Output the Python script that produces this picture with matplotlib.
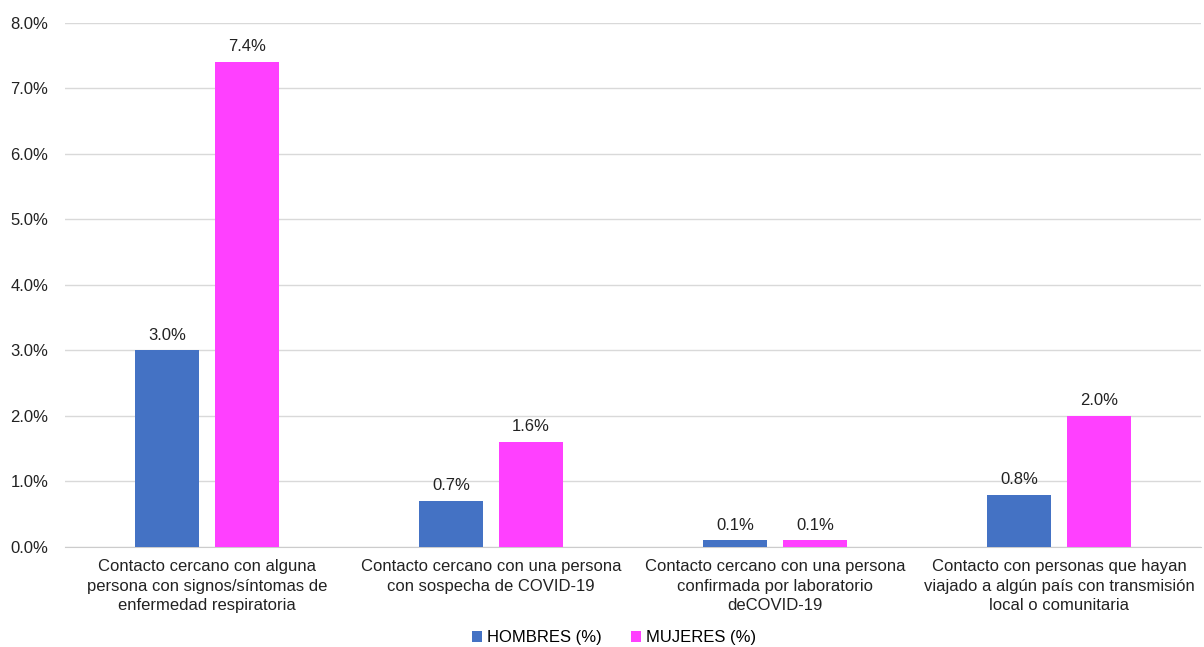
import numpy as np
import matplotlib.pyplot as plt
from matplotlib.ticker import PercentFormatter

plt.rcParams['font.family'] = ['Liberation Sans', 'DejaVu Sans']

categories = [
    "Contacto cercano con alguna\npersona con signos/síntomas de\nenfermedad respiratoria",
    "Contacto cercano con una persona\ncon sospecha de COVID-19",
    "Contacto cercano con una persona\nconfirmada por laboratorio\ndeCOVID-19",
    "Contacto con personas que hayan\nviajado a algún país con transmisión\nlocal o comunitaria",
]
hombres = [3.0, 0.7, 0.1, 0.8]
mujeres = [7.4, 1.6, 0.1, 2.0]
series_names = ["HOMBRES (%)", "MUJERES (%)"]
colors = ["#4472C4", "#FF40FF"]

fig = plt.figure(figsize=(12.04, 6.47), dpi=100)
ax = fig.add_axes([0.054, 0.1546, 0.9435, 0.81])

x = np.arange(len(categories))
w = 0.225
off = 0.141
for vals, name, c, d in zip([hombres, mujeres], series_names, colors, [-off, off]):
    bars = ax.bar(x + d, vals, w, color=c, label=name, zorder=3)
    for b, v in zip(bars, vals):
        ax.text(b.get_x() + b.get_width() / 2, v + 0.12, f"{v:.1f}%",
                ha='center', va='bottom', fontsize=12, color='#222222')

ax.set_xlim(-0.5, len(categories) - 0.5)
ax.set_ylim(0, 8)
ax.set_yticks(np.arange(0, 8.1, 1))
ax.yaxis.set_major_formatter(PercentFormatter(decimals=1))
ax.set_xticks(x)
ax.set_xticklabels(categories, fontsize=12, color='#222222', linespacing=1.35)
ax.tick_params(axis='x', length=0, pad=9)
ax.tick_params(axis='y', length=0, pad=12, labelsize=12, labelcolor='#222222')
ax.grid(axis='y', color='#d9d9d9', linewidth=1, zorder=0)
for s in ['top', 'right', 'left']:
    ax.spines[s].set_visible(False)
ax.spines['bottom'].set_color('#cccccc')

fig.legend(loc='center', bbox_to_anchor=(0.51, 0.014), ncol=2, frameon=False,
           fontsize=12, handlelength=0.6, handleheight=0.6, handletextpad=0.3,
           columnspacing=1.8, borderaxespad=0, borderpad=0)

fig.savefig("out.png", dpi=100)
